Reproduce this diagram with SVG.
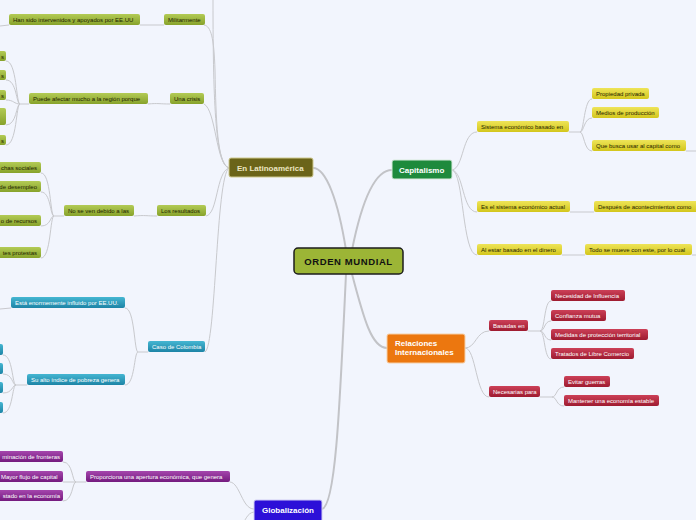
<svg xmlns="http://www.w3.org/2000/svg" width="696" height="520" viewBox="0 0 696 520">
<defs>
<linearGradient id="gOl" x1="0" y1="0" x2="0" y2="1"><stop offset="0" stop-color="#b3cb55"/><stop offset="1" stop-color="#87a22b"/></linearGradient>
<linearGradient id="gYe" x1="0" y1="0" x2="0" y2="1"><stop offset="0" stop-color="#eee458"/><stop offset="1" stop-color="#d3c61c"/></linearGradient>
<linearGradient id="gTe" x1="0" y1="0" x2="0" y2="1"><stop offset="0" stop-color="#45b6d2"/><stop offset="1" stop-color="#1d84a6"/></linearGradient>
<linearGradient id="gPu" x1="0" y1="0" x2="0" y2="1"><stop offset="0" stop-color="#a546ad"/><stop offset="1" stop-color="#741a7e"/></linearGradient>
<linearGradient id="gRe" x1="0" y1="0" x2="0" y2="1"><stop offset="0" stop-color="#cc4057"/><stop offset="1" stop-color="#9e1b30"/></linearGradient>
</defs>
<style>
text{font-family:"Liberation Sans",Arial,sans-serif}
.c{fill:none;stroke:#c8c9cd;stroke-width:1}
.m{fill:none;stroke:#c2c3c7;stroke-width:2}
.n rect{rx:2;ry:2}
.ol rect{fill:url(#gOl)}
.ye rect{fill:url(#gYe)}
.te rect{fill:url(#gTe)}
.pu rect{fill:url(#gPu)}
.re rect{fill:url(#gRe)}
.n text{font-size:6px}
.ol text,.ye text{fill:#1e2400}
.te text,.pu text,.re text{fill:#ffffff}
.e{text-anchor:end}
.t text{font-size:8px;font-weight:bold;fill:#fff}
</style>
<rect x="0" y="0" width="696" height="520" fill="#f2f5fd"/>
<g id="connectors">
<path class="m" d="M313,168 C326,168 338,200 346,250"/>
<path class="m" d="M352,250 C362,200 375,170 392,170"/>
<path class="m" d="M352,274 C364,320 372,348 387,348"/>
<path class="m" d="M346,274 C340,400 336,506 322,509"/>
<path class="c" d="M229,168 C216,164 213,110 213,0"/>
<path class="c" d="M229,168 C217,164 216,120 215,70 C214,38 211,26 204,25"/>
<path class="c" d="M229,168 C216,165 216,110 204,104"/>
<path class="c" d="M229,168 C216,172 218,214 206,216"/>
<path class="c" d="M229,168 C216,176 216,346 205,352"/>
<path class="c" d="M164,25 L140,25 M9,25 L0,26"/>
<path class="c" d="M170,104 C160,104 158,103 148,104"/>
<path class="c" d="M29,104 L20,104 C16,104 17,61 6,61 M20,104 C16,104 17,80 6,80 M20,104 C14,104 14,100 6,100 M20,104 C16,104 17,125 6,125 M20,104 C16,104 17,145 6,145"/>
<path class="c" d="M157,216 C147,216 145,215 134,216"/>
<path class="c" d="M64,216 L54,216 C50,216 51,173 41,173 M54,216 C50,216 51,192 41,192 M54,216 C50,216 51,226 41,226 M54,216 C50,216 51,258 41,258"/>
<path class="c" d="M148,352 L138,352 C134,352 135,308 125,308 M138,352 C134,352 135,385 125,385 M11,308 L0,309"/>
<path class="c" d="M27,385 L16,385 C12,385 13,355 3,355 M16,385 C12,385 13,374 3,374 M16,385 C12,385 13,393 3,393 M16,385 C12,385 13,413 3,413"/>
<path class="c" d="M254,509 C242,509 240,483 230,482 M254,512 C247,513 246,520 241,526"/>
<path class="c" d="M86,482 L76,482 C72,482 73,462 63,462 M76,482 L63,482 M76,482 C72,482 73,501 63,501"/>
<path class="c" d="M452,170 C464,168 462,132 477,132 M452,170 C464,172 462,212 477,212 M452,170 C464,172 462,255 477,255"/>
<path class="c" d="M569,132 L580,132 C584,132 584,99 592,99 M580,132 C584,132 584,118 592,118 M580,132 C584,132 584,151 592,151 M686,151 L696,151"/>
<path class="c" d="M570,212 L594,212 M562,255 L585,255 M692,255 L696,255"/>
<path class="c" d="M465,348 C476,348 476,331 489,331 M465,348 C476,348 476,397 489,397"/>
<path class="c" d="M528,331 L540,331 C545,331 544,301 551,301 M540,331 C545,331 544,321 551,321 M540,331 C545,331 544,340 551,340 M540,331 C545,331 544,359 551,359"/>
<path class="c" d="M540,397 L552,397 C557,397 556,387 564,387 M552,397 C557,397 556,406 564,406"/>
</g>
<g id="orden-mundial"><rect x="294" y="248" width="109" height="26" rx="4" fill="#9cb536" stroke="#1c1c1c" stroke-width="1.5"/><text x="348.5" y="264.5" text-anchor="middle" font-size="9.5" font-weight="bold" letter-spacing="0.6" fill="#111">ORDEN MUNDIAL</text></g>
<g id="latinoamerica" class="t"><rect x="229" y="158" width="84" height="19" rx="2" fill="#6b6419" stroke="#cfc98e" stroke-width="1"/><text x="237" y="170.5" style="fill:#ebe6c2">En Latinoamérica</text></g>
<g id="capitalismo" class="t"><rect x="392" y="160" width="60" height="19" rx="2" fill="#1e8a3c" stroke="#d8eadc" stroke-width="1"/><text x="399" y="172.5">Capitalismo</text></g>
<g id="relaciones" class="t"><rect x="387" y="334" width="78" height="29" rx="2" fill="#ec770f" stroke="#f6d0a8" stroke-width="1"/><text x="395" y="346">Relaciones</text><text x="395" y="355">Internacionales</text></g>
<g id="globalizacion" class="t"><rect x="254" y="500" width="68" height="24" rx="2" fill="#2c10d8" stroke="#d0ccf4" stroke-width="1"/><text x="262" y="512.5">Globalización</text></g>

<g id="militarmente" class="n ol"><rect x="164" y="14" width="41" height="11"/><text x="168" y="22">Militarmente</text></g>
<g id="han-sido" class="n ol"><rect x="9" y="14" width="131" height="11"/><text x="13" y="22">Han sido intervenidos y apoyados por EE.UU</text></g>
<g id="una-crisis" class="n ol"><rect x="170" y="93" width="34" height="11"/><text x="174" y="101">Una crisis</text></g>
<g id="puede-afectar" class="n ol"><rect x="29" y="93" width="119" height="11"/><text x="33" y="101">Puede afectar mucho a la región porque</text></g>
<g id="pa1" class="n ol"><rect x="-40" y="51" width="46" height="10"/><text class="e" x="4" y="58.5">s</text></g>
<g id="pa2" class="n ol"><rect x="-40" y="70" width="46" height="10"/><text class="e" x="4" y="77.5">s</text></g>
<g id="pa3" class="n ol"><rect x="-40" y="90" width="46" height="10"/><text class="e" x="4" y="97.5">s</text></g>
<g id="pa4" class="n ol"><rect x="-40" y="108" width="46" height="17"/></g>
<g id="pa5" class="n ol"><rect x="-40" y="135" width="46" height="10"/><text class="e" x="4" y="142.5">s</text></g>
<g id="los-resultados" class="n ol"><rect x="157" y="205" width="49" height="11"/><text x="161" y="213">Los resultados</text></g>
<g id="no-se-ven" class="n ol"><rect x="64" y="205" width="70" height="11"/><text x="68" y="213">No se ven debido a las</text></g>
<g id="ns1" class="n ol"><rect x="-30" y="162" width="71" height="11"/><text class="e" x="37" y="170">chas sociales</text></g>
<g id="ns2" class="n ol"><rect x="-30" y="181" width="71" height="11"/><text class="e" x="37" y="189">de desempleo</text></g>
<g id="ns3" class="n ol"><rect x="-30" y="215" width="71" height="11"/><text class="e" x="37" y="223">o de recursos</text></g>
<g id="ns4" class="n ol"><rect x="-30" y="247" width="71" height="11"/><text class="e" x="37" y="255">tes protestas</text></g>

<g id="caso-colombia" class="n te"><rect x="148" y="341" width="57" height="11"/><text x="152" y="349">Caso de Colombia</text></g>
<g id="esta" class="n te"><rect x="11" y="297" width="114" height="11"/><text x="15" y="305">Está enormemente influido por EE.UU.</text></g>
<g id="su-alto" class="n te"><rect x="27" y="374" width="98" height="11"/><text x="31" y="382">Su alto índice de pobreza genera</text></g>
<g id="sa1" class="n te"><rect x="-20" y="344" width="23" height="11"/></g>
<g id="sa2" class="n te"><rect x="-20" y="363" width="23" height="11"/></g>
<g id="sa3" class="n te"><rect x="-20" y="382" width="23" height="11"/></g>
<g id="sa4" class="n te"><rect x="-20" y="402" width="23" height="11"/></g>

<g id="proporciona" class="n pu"><rect x="86" y="471" width="144" height="11"/><text x="90" y="479">Proporciona una apertura económica, que genera</text></g>
<g id="g1" class="n pu"><rect x="-20" y="451" width="83" height="11"/><text class="e" x="60" y="459">minación de fronteras</text></g>
<g id="g2" class="n pu"><rect x="-2" y="471" width="65" height="11"/><text x="1" y="479">Mayor flujo de capital</text></g>
<g id="g3" class="n pu"><rect x="-20" y="490" width="83" height="11"/><text class="e" x="60" y="498">stado en la economía</text></g>

<g id="sistema" class="n ye"><rect x="477" y="121" width="92" height="11"/><text x="481" y="129">Sistema económico basado en</text></g>
<g id="es-el" class="n ye"><rect x="477" y="201" width="93" height="11"/><text x="481" y="209">Es el sistema económico actual</text></g>
<g id="al-estar" class="n ye"><rect x="477" y="244" width="85" height="11"/><text x="481" y="252">Al estar basado en el dinero</text></g>
<g id="propiedad" class="n ye"><rect x="592" y="88" width="57" height="11"/><text x="596" y="96">Propiedad privada</text></g>
<g id="medios" class="n ye"><rect x="592" y="107" width="67" height="11"/><text x="596" y="115">Medios de producción</text></g>
<g id="que-busca" class="n ye"><rect x="592" y="140" width="94" height="11"/><text x="596" y="148">Que busca usar al capital como</text></g>
<g id="despues" class="n ye"><rect x="594" y="201" width="110" height="11"/><text x="598" y="209">Después de acontecimientos como</text></g>
<g id="todo" class="n ye"><rect x="585" y="244" width="107" height="11"/><text x="589" y="252">Todo se mueve con este, por lo cual</text></g>

<g id="basadas" class="n re"><rect x="489" y="320" width="39" height="11"/><text x="493" y="328">Basadas en</text></g>
<g id="necesarias" class="n re"><rect x="489" y="386" width="51" height="11"/><text x="493" y="394">Necesarias para</text></g>
<g id="necesidad" class="n re"><rect x="551" y="290" width="74" height="11"/><text x="555" y="298">Necesidad de Influencia</text></g>
<g id="confianza" class="n re"><rect x="551" y="310" width="55" height="11"/><text x="555" y="318">Confianza mutua</text></g>
<g id="medidas" class="n re"><rect x="551" y="329" width="97" height="11"/><text x="555" y="337">Medidas de protección territorial</text></g>
<g id="tratados" class="n re"><rect x="551" y="348" width="83" height="11"/><text x="555" y="356">Tratados de Libre Comercio</text></g>
<g id="evitar" class="n re"><rect x="564" y="376" width="46" height="11"/><text x="568" y="384">Evitar guerras</text></g>
<g id="mantener" class="n re"><rect x="564" y="395" width="95" height="11"/><text x="568" y="403">Mantener una economía estable</text></g>
</svg>
